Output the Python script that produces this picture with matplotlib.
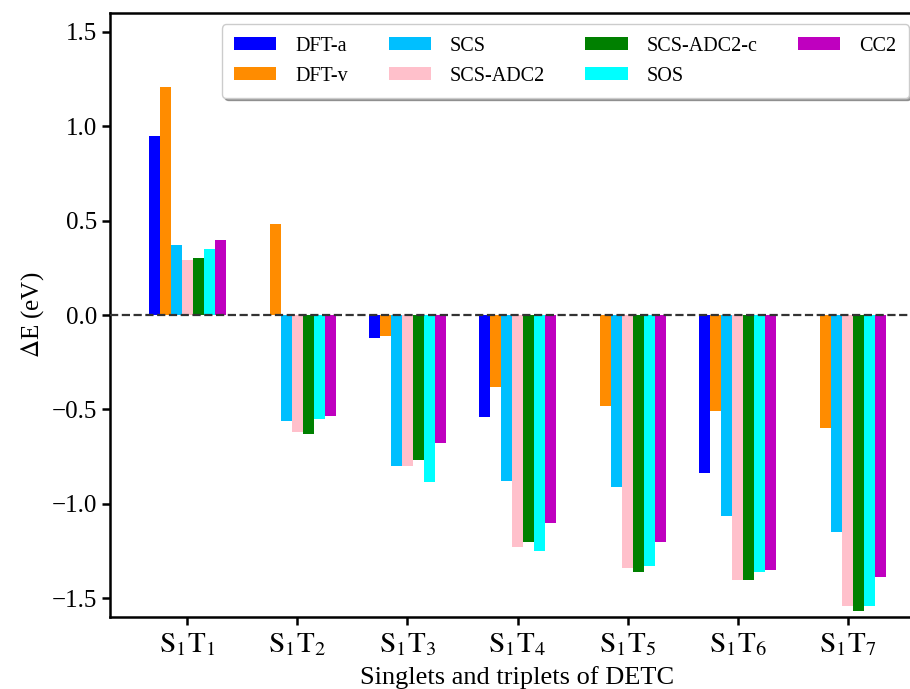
import matplotlib
matplotlib.use("Agg")
import matplotlib.pyplot as plt
import numpy as np

plt.rcParams['font.family'] = ['Liberation Serif', 'DejaVu Serif']
plt.rcParams['mathtext.fontset'] = 'stix'

categories = [r'$\mathrm{S_1T_1}$', r'$\mathrm{S_1T_2}$', r'$\mathrm{S_1T_3}$', r'$\mathrm{S_1T_4}$',
              r'$\mathrm{S_1T_5}$', r'$\mathrm{S_1T_6}$', r'$\mathrm{S_1T_7}$']
methods = ['DFT-a', 'DFT-v', 'SCS', 'SCS-ADC2', 'SCS-ADC2-c', 'SOS', 'CC2']
colors = ['#0000FF', '#FF8C00', '#00BFFF', '#FFC0CB', '#008000', '#00FFFF', '#BF00BF']

dft_a = [0.95, 0.0, -0.12, -0.54, 0.0, -0.835, 0.0]
dft_v = [1.21, 0.48, -0.11, -0.38, -0.48, -0.51, -0.60]
scs = [0.37, -0.56, -0.80, -0.88, -0.91, -1.065, -1.15]
scs_adc2 = [0.29, -0.62, -0.80, -1.23, -1.34, -1.405, -1.54]
scs_adc2_c = [0.30, -0.63, -0.77, -1.20, -1.36, -1.405, -1.57]
sos = [0.35, -0.55, -0.885, -1.25, -1.33, -1.36, -1.54]
cc2 = [0.40, -0.535, -0.68, -1.10, -1.20, -1.35, -1.39]
series = [dft_a, dft_v, scs, scs_adc2, scs_adc2_c, sos, cc2]

fig = plt.figure(figsize=(9.10, 6.89), dpi=100)
ax = fig.add_axes([110/910, 72/689, 815/910, 604/689])

x = np.arange(len(categories))
w = 0.1
for i, (vals, name, c) in enumerate(zip(series, methods, colors)):
    ax.bar(x + (i - 3) * w, vals, width=w, color=c, label=name, zorder=2)

ax.axhline(0, color='#333333', ls='--', lw=1.6, zorder=3)

ax.set_xlim(-0.7, 6.7)
ax.set_ylim(-1.6, 1.6)
ax.set_xticks(x)
ax.set_xticklabels(categories, fontsize=21)
ax.set_yticks([-1.5, -1.0, -0.5, 0.0, 0.5, 1.0, 1.5])
ax.tick_params(axis='y', labelsize=18, width=1.8, length=6)
ax.tick_params(axis='x', width=1.8, length=6, pad=4)
for s in ax.spines.values():
    s.set_linewidth(1.8)

ax.set_xlabel('Singlets and triplets of DETC', fontsize=19, labelpad=6)
ax.set_ylabel(r'$\Delta$E (eV)', fontsize=18, labelpad=4)

leg = ax.legend(ncol=4, loc='upper right', bbox_to_anchor=(0.98, 0.981), borderaxespad=0,
                fontsize=14.5, shadow=True, fancybox=True, handlelength=2.1, handleheight=0.65,
                handletextpad=0.95, columnspacing=2.0, framealpha=1, borderpad=0.6,
                labelspacing=0.55)

fig.savefig('out.png', dpi=100)
